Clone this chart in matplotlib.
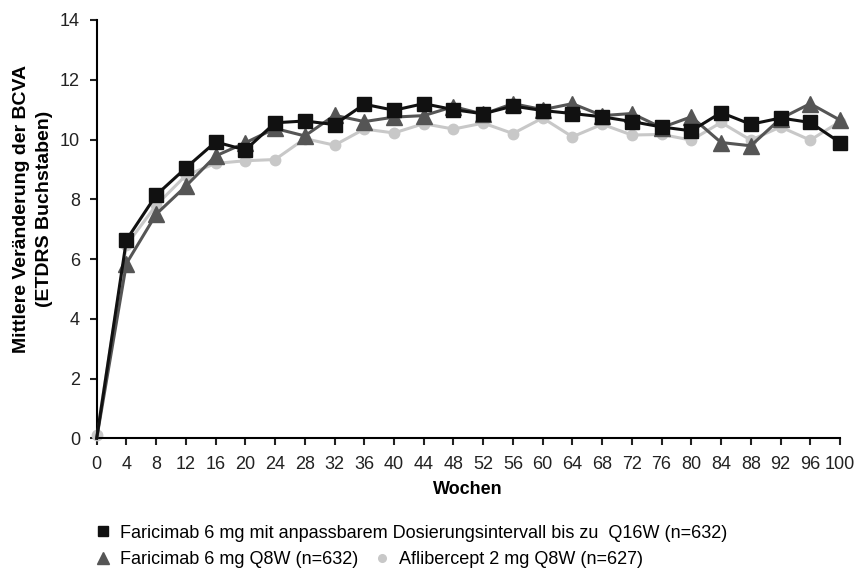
import matplotlib.pyplot as plt
from matplotlib.lines import Line2D

plt.rcParams['font.family'] = ['Liberation Sans', 'DejaVu Sans']

weeks = list(range(0, 101, 4))

# Faricimab 6 mg, adjustable interval up to Q16W
q16w = [0.0, 6.64, 8.14, 9.05, 9.92, 9.65, 10.56, 10.62, 10.5, 11.18, 10.98, 11.2, 11.0,
        10.86, 11.12, 10.97, 10.87, 10.76, 10.6, 10.42, 10.29, 10.9, 10.51, 10.72, 10.57, 9.9]
# Faricimab 6 mg Q8W
q8w = [0.0, 5.85, 7.5, 8.44, 9.45, 9.89, 10.37, 10.12, 10.81, 10.6, 10.75, 10.8, 11.1,
       10.85, 11.2, 11.0, 11.2, 10.8, 10.87, 10.4, 10.76, 9.9, 9.79, 10.7, 11.2, 10.65]
# Aflibercept 2 mg Q8W
afl = [0.1, 6.47, 7.8, 8.8, 9.2, 9.29, 9.33, 10.03, 9.81, 10.35, 10.22, 10.53, 10.35,
       10.55, 10.2, 10.72, 10.09, 10.51, 10.15, 10.17, 9.98, 10.57, 9.98, 10.42, 9.98, 10.6]

labels = ["Faricimab 6 mg mit anpassbarem Dosierungsintervall bis zu  Q16W (n=632)",
          "Faricimab 6 mg Q8W (n=632)",
          "Aflibercept 2 mg Q8W (n=627)"]

W, H = 856, 569
fig = plt.figure(figsize=(W / 100, H / 100), dpi=100)
ax = fig.add_axes([96.7 / W, 1 - 438.3 / H, 743.3 / W, 418.3 / H])

ax.plot(weeks, afl, color='#c8c8c8', lw=2.2, marker='o', ms=7.5, zorder=2, clip_on=False)
ax.plot(weeks, q8w, color='#555555', lw=2.2, marker='^', ms=11, zorder=3,
        markevery=range(1, len(weeks)), clip_on=False)
ax.plot(weeks, q16w, color='#111111', lw=2.2, marker='s', ms=10, zorder=4,
        markevery=range(1, len(weeks)), clip_on=False)

ax.set_xlim(0, 100)
ax.set_ylim(0, 14)
ax.set_xticks(weeks)
ax.set_yticks(range(0, 15, 2))
ax.spines['top'].set_visible(False)
ax.spines['right'].set_visible(False)
for s in ('left', 'bottom'):
    ax.spines[s].set_linewidth(1.5)
ax.tick_params(direction='out', length=5, width=1.5, labelsize=13, colors='#222222')
ax.tick_params(axis='y', pad=7)
ax.tick_params(axis='x', pad=8)

fig.text(468 / W, 1 - 490 / H, "Wochen", fontsize=13, fontweight='bold',
         ha='center', va='center')
fig.text(33 / W, 1 - 209 / H, "Mittlere Veränderung der BCVA\n(ETDRS Buchstaben)",
         fontsize=14, fontweight='bold', rotation=90, ha='center', va='center',
         multialignment='center', linespacing=1.5)

h1 = Line2D([], [], color='#111111', marker='s', ls='none', ms=7.5)
h2 = Line2D([], [], color='#555555', marker='^', ls='none', ms=8)
h3 = Line2D([], [], color='#c8c8c8', marker='o', ls='none', ms=5.5)
common = dict(frameon=False, fontsize=13, handletextpad=0.54, handlelength=0.8,
              borderpad=0, borderaxespad=0)
fig.legend([h1], [labels[0]], loc='center left', bbox_to_anchor=(95.8 / W, 1 - 533 / H),
           **common)
fig.legend([h2, h3], labels[1:], loc='center left', bbox_to_anchor=(95.8 / W, 1 - 560 / H),
           ncol=2, columnspacing=0.9, **common)

fig.savefig('out.png', dpi=100)
